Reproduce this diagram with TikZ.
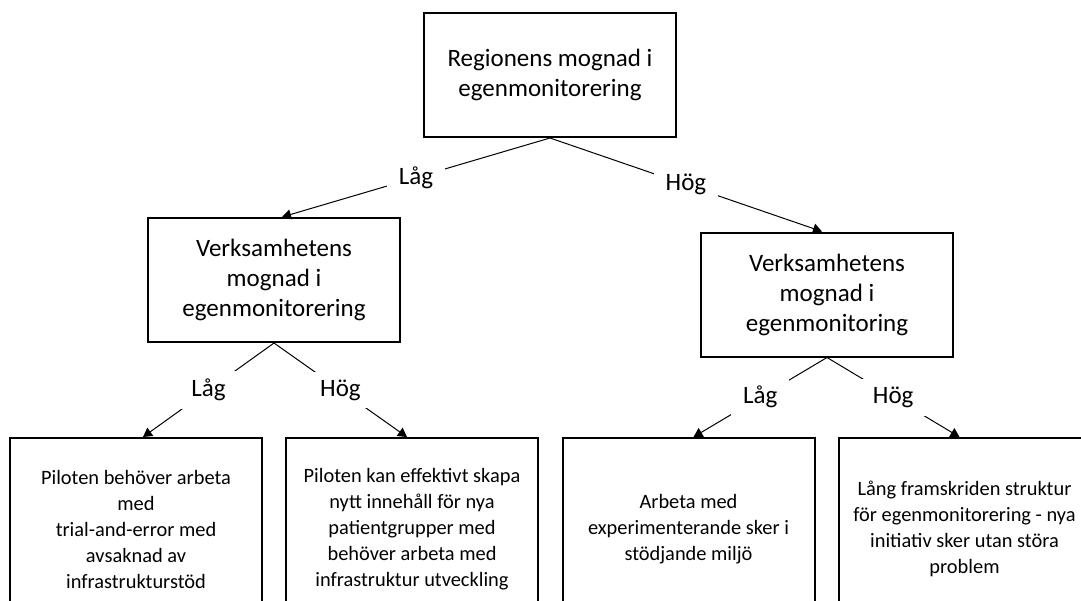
\documentclass[tikz,border=0pt]{standalone}
\usepackage{fontspec}
\setmainfont{Carlito}
\usetikzlibrary{positioning,arrows.meta}

\tikzset{
	box/.style={draw,line width=1pt,align=center,inner sep=2pt,
		minimum width=126pt,minimum height=62pt,
		font=\fontsize{12.5}{15}\selectfont},
	leaf/.style={box,minimum height=91pt,
		font=\fontsize{10.2}{13}\selectfont},
	lbl/.style={fill=white,inner xsep=6pt,inner ysep=4pt,
		font=\fontsize{12.5}{15}\selectfont},
	conn/.style={line width=0.5pt,-{Triangle[length=4.5pt,width=5pt]}}
}

\begin{document}
\begin{tikzpicture}[x=0.5pt,y=-0.5pt]
	
	\useasboundingbox (0,0) rectangle (1081,600);
	
	% beslutsnoder
	\node[box] (region) at (550,75) {Regionens mognad i\\egenmonitorering};
	\node[box] (verkL) at (274,280) {Verksamhetens\\mognad i\\egenmonitorering};
	\node[box] (verkH) at (827,294.5) {Verksamhetens\\mognad i\\egenmonitoring};
	
	% utfall
	\node[leaf] (ll) at (136,529) {Piloten behöver arbeta\\med\\trial-and-error med\\avsaknad av\\infrastrukturstöd};
	\node[leaf] (lh) at (412,529) {Piloten kan effektivt skapa\\nytt innehåll för nya\\patientgrupper med\\behöver arbeta med\\infrastruktur utveckling};
	\node[leaf] (hl) at (688.5,529) {Arbeta med\\experimenterande sker i\\stödjande miljö};
	\node[leaf] (hh) at (964.5,529) {Lång framskriden struktur\\för egenmonitorering - nya\\initiativ sker utan störa\\problem};
	
	% kopplingar
	\draw[conn] (region.south) -- node[lbl] {Låg} ([xshift=4pt]verkL.north);
	\draw[conn] (region.south) -- node[lbl] {Hög} ([xshift=-2.5pt]verkH.north);
	\draw[conn] (verkL.south) -- node[lbl] {Låg} ([xshift=3.5pt]ll.north);
	\draw[conn] (verkL.south) -- node[lbl] {Hög} ([xshift=-2.5pt]lh.north);
	\draw[conn] (verkH.south) -- node[lbl] {Låg} ([xshift=2.5pt]hl.north);
	\draw[conn] (verkH.south) -- node[lbl] {Hög} ([xshift=-2.5pt]hh.north);
	
\end{tikzpicture}
\end{document}
